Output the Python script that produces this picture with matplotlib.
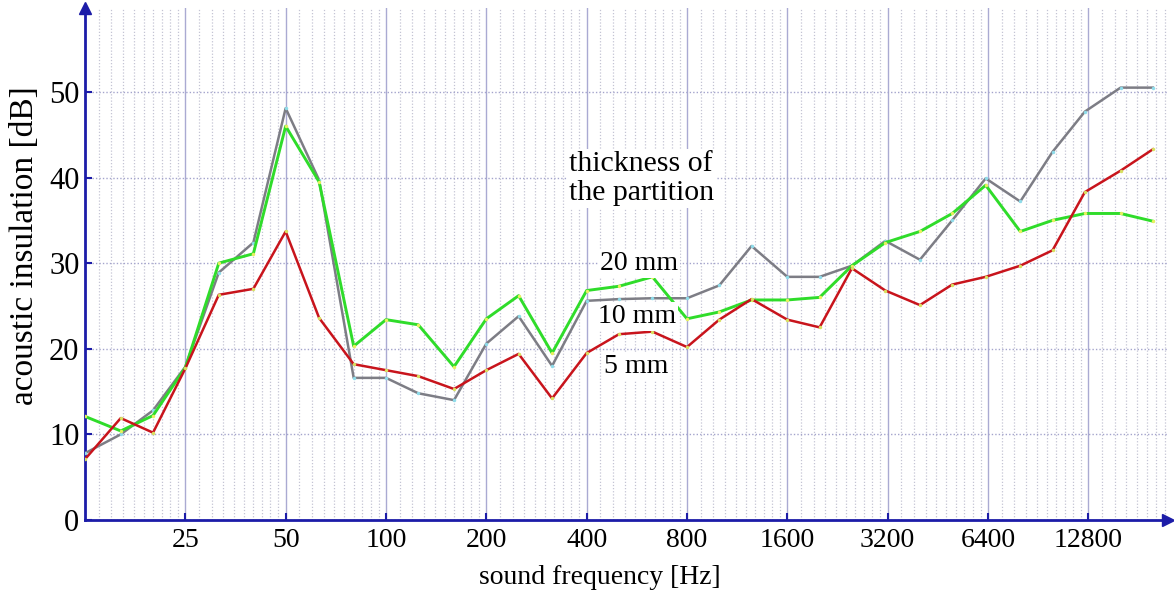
import matplotlib
matplotlib.use("Agg")
import matplotlib.pyplot as plt
import numpy as np
from matplotlib.ticker import FixedLocator, NullFormatter

plt.rcParams["font.family"] = ["Liberation Serif", "DejaVu Serif"]

# third-octave band centre frequencies [Hz]
freqs = [12.5, 16, 20, 25, 31.5, 40, 50, 63, 80, 100, 125, 160, 200, 250,
         315, 400, 500, 630, 800, 1000, 1250, 1600, 2000, 2500, 3150, 4000,
         5000, 6300, 8000, 10000, 12500, 16000, 20000]

# acoustic insulation [dB] for each partition thickness
ins_20mm = [12.1, 10.4, 12.2, 17.8, 30.0, 31.1, 46.0, 39.5, 20.3, 23.4, 22.8,
            17.9, 23.5, 26.2, 19.5, 26.8, 27.3, 28.4, 23.5, 24.3, 25.7, 25.7,
            26.0, 29.7, 32.4, 33.7, 35.8, 39.1, 33.7, 35.0, 35.8, 35.8, 34.9]
ins_10mm = [7.8, 10.0, 12.8, 17.9, 28.9, 32.4, 48.1, 39.7, 16.6, 16.6, 14.8,
            14.0, 20.6, 23.8, 18.0, 25.6, 25.8, 25.9, 25.9, 27.4, 32.0, 28.4,
            28.4, 29.7, 32.6, 30.4, 35.0, 39.9, 37.2, 43.0, 47.7, 50.5, 50.5]
ins_5mm = [7.1, 11.9, 10.2, 17.7, 26.3, 27.0, 33.7, 23.6, 18.2, 17.5, 16.8,
           15.3, 17.5, 19.4, 14.2, 19.5, 21.7, 22.0, 20.2, 23.4, 25.8, 23.4,
           22.5, 29.4, 26.8, 25.1, 27.5, 28.4, 29.7, 31.5, 38.3, 40.8, 43.3]

xtick_values = [25, 50, 100, 200, 400, 800, 1600, 3200, 6400, 12800]
ytick_values = [0, 10, 20, 30, 40, 50]

navy = "#1c1ca8"

fig = plt.figure(figsize=(11.74, 5.96), dpi=100)
ax = fig.add_axes([85 / 1174, 76 / 596, 1083 / 1174, 512 / 596])

ax.set_xscale("log")
ax.set_xlim(12.5, 22200)
ax.set_ylim(0, 59.8)

# grid: octave lines solid, subdivisions dotted
octave_starts = [12.5 * 2 ** k for k in range(11)]
minor = [f * (1 + k / 10) for f in octave_starts for k in range(1, 10)]
ax.xaxis.set_major_locator(FixedLocator(xtick_values))
ax.xaxis.set_minor_locator(FixedLocator(minor))
ax.xaxis.set_minor_formatter(NullFormatter())
ax.set_xticklabels([str(v) for v in xtick_values])
ax.set_yticks(ytick_values)

ax.grid(True, which="major", axis="x", color="#aaaad2", lw=1.0, ls="-")
ax.grid(True, which="minor", axis="x", color="#c4c4d4", lw=0.9, ls=(0, (1, 1.5)))
ax.grid(True, which="major", axis="y", color="#a4a4cc", lw=1.0, ls=(0, (1, 1.5)))
ax.set_axisbelow(True)

# ==========================
# Data lines
# ==========================
ax.plot(freqs, ins_10mm, color="#7d7d85", lw=1.8, marker="o", ms=2.5,
        mfc="#8fdcea", mec="none", zorder=3)
ax.plot(freqs, ins_20mm, color="#2fdc2a", lw=2.1, marker="o", ms=2.5,
        mfc="#e8f060", mec="none", zorder=4)
ax.plot(freqs, ins_5mm, color="#c8141c", lw=1.8, marker="o", ms=2.5,
        mfc="#d8e060", mec="none", zorder=5)

# ==========================
# Annotations
# ==========================
box = dict(facecolor="white", edgecolor="none", pad=1.5)
ax.text(355, 39.9, "thickness of\nthe partition", fontsize=21.5, ha="left",
        va="center", linespacing=1.12, bbox=box, zorder=6)
ax.text(575, 30.0, "20 mm", fontsize=20, ha="center", va="center",
        bbox=box, zorder=6)
ax.text(565, 23.8, "10 mm", fontsize=20, ha="center", va="center",
        bbox=box, zorder=6)
ax.text(565, 17.9, "5 mm", fontsize=20, ha="center", va="center",
        bbox=box, zorder=6)

# ==========================
# Axes formatting
# ==========================
for side in ["top", "right"]:
    ax.spines[side].set_visible(False)
for side in ["left", "bottom"]:
    ax.spines[side].set_color(navy)
    ax.spines[side].set_linewidth(2)
ax.plot(1, 0, ">", transform=ax.transAxes, clip_on=False, color=navy, ms=8)
ax.plot(0, 1, "^", transform=ax.transAxes, clip_on=False, color=navy, ms=8)

ax.tick_params(axis="both", which="major", direction="in", length=5,
               width=1.5, color=navy, labelcolor="black")
ax.tick_params(axis="x", which="minor", length=0)
ax.tick_params(axis="x", which="major", labelsize=20, pad=6)
ax.tick_params(axis="y", which="major", labelsize=22, pad=4)

ax.set_xlabel("sound frequency [Hz]", fontsize=20)
ax.xaxis.set_label_coords(0.4755, -0.113)
ax.set_ylabel("acoustic insulation [dB]", fontsize=24)
ax.yaxis.set_label_coords(-0.056, 0.535)
ax.xaxis.label.set_va("center")
ax.yaxis.label.set_va("center")

fig.savefig("out.png", dpi=100)
